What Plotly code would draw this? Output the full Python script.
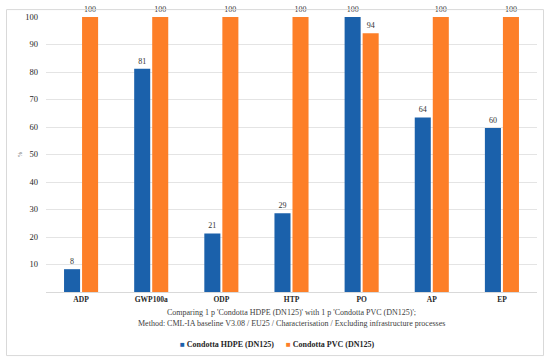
import plotly.graph_objects as go

categories = ["ADP", "GWP100a", "ODP", "HTP", "PO", "AP", "EP"]
hdpe_values = [8.3, 81.2, 21.3, 28.6, 100, 63.5, 59.6]
pvc_values = [100, 100, 100, 100, 94.1, 100, 100]
series_names = ["Condotta HDPE (DN125)", "Condotta PVC (DN125)"]
y_ticks = [10, 20, 30, 40, 50, 60, 70, 80, 90, 100]

BLUE = "#1b61ab"
ORANGE = "#fd7f28"
FONT = "Liberation Serif"

fig = go.Figure()
for name, vals, col in [(series_names[0], hdpe_values, BLUE), (series_names[1], pvc_values, ORANGE)]:
    fig.add_trace(go.Bar(
        x=categories, y=vals, name=name, marker=dict(color=col, line=dict(width=0)),
        text=vals, texttemplate="%{y:.0f}", textposition="outside",
        textfont=dict(family=FONT, size=8, color="#333333"),
        cliponaxis=False, showlegend=False,
    ))

fig.update_layout(
    width=550, height=362,
    margin=dict(l=46, r=13, t=13, b=70),
    paper_bgcolor="white", plot_bgcolor="white",
    barmode="group", bargap=0.486, bargroupgap=0.11,
    font=dict(family=FONT, color="#333333"),
    xaxis=dict(
        showline=True, linecolor="#d9d9d9", linewidth=1,
        tickfont=dict(family=FONT, size=7.5, color="#262626", weight="bold"),
        ticks="", showgrid=False,
    ),
    yaxis=dict(
        range=[0, 100], tickvals=y_ticks, ticktext=[str(v) for v in y_ticks],
        showgrid=True, gridcolor="#e4e4e4", gridwidth=1, zeroline=False,
        tickfont=dict(family=FONT, size=8.5, color="#262626"),
        ticks="", ticklabelstandoff=7,
        title=dict(text="%", font=dict(family=FONT, size=6, color="#595959"), standoff=2),
    ),
)

fig.add_shape(type="rect", xref="paper", yref="paper",
              x0=(6.5-46)/491, x1=(543.5-46)/491, y0=(292-356.5)/279, y1=(292-5.5)/279,
              line=dict(color="#d9d9d9", width=1), fillcolor="rgba(0,0,0,0)", layer="above")

fig.add_annotation(xref="paper", yref="paper", x=0.5, y=(292-313)/279,
                   text="Comparing 1 p 'Condotta HDPE (DN125)' with 1 p 'Condotta PVC (DN125)';",
                   showarrow=False, font=dict(family=FONT, size=8, color="#404040"), yanchor="middle")
fig.add_annotation(xref="paper", yref="paper", x=0.5, y=(292-324)/279,
                   text="Method: CML-IA baseline V3.08 / EU25 / Characterisation / Excluding infrastructure processes",
                   showarrow=False, font=dict(family=FONT, size=8, color="#404040"), yanchor="middle")
fig.add_annotation(xref="paper", yref="paper", x=(277-46)/491, y=(292-345)/279,
                   text=(f"<span style='color:{BLUE}'>■</span> <b>{series_names[0]}</b>"
                         f"      <span style='color:{ORANGE}'>■</span> <b>{series_names[1]}</b>"),
                   showarrow=False, font=dict(family=FONT, size=8, color="#262626"), yanchor="middle")

fig.write_html("out.html", config={"displayModeBar": False},
               post_script="document.body.style.margin='0';")
